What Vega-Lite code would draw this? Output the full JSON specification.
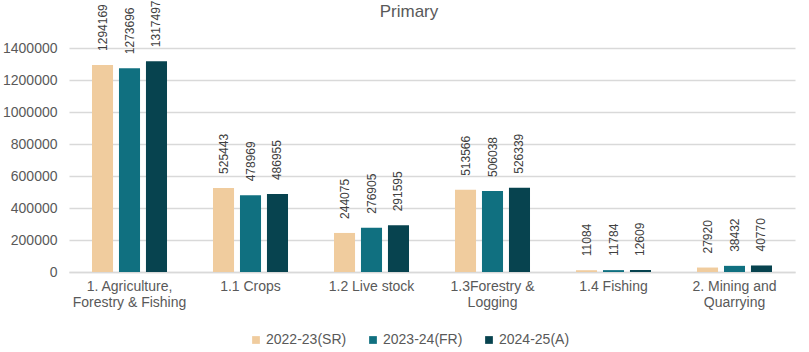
{
  "$schema": "https://vega.github.io/schema/vega-lite/v6.json",
  "width": 726,
  "height": 224,
  "autosize": {"type": "none"},
  "padding": {"left": 69, "top": 48, "right": 14, "bottom": 80},
  "background": "white",
  "title": {"text": "Primary", "fontSize": 17, "font": "Liberation Sans", "fontWeight": "normal", "color": "#595959", "anchor": "middle", "offset": 4, "dy": 25, "dx": -23},
  "config": {"view": {"stroke": null}, "font": "Liberation Sans"},
  "data": {"values": [
    {"cat": "1. Agriculture,|Forestry & Fishing", "year": "2022-23(SR)", "v": 1294169},
    {"cat": "1. Agriculture,|Forestry & Fishing", "year": "2023-24(FR)", "v": 1273696},
    {"cat": "1. Agriculture,|Forestry & Fishing", "year": "2024-25(A)", "v": 1317497},
    {"cat": "1.1 Crops", "year": "2022-23(SR)", "v": 525443},
    {"cat": "1.1 Crops", "year": "2023-24(FR)", "v": 478969},
    {"cat": "1.1 Crops", "year": "2024-25(A)", "v": 486955},
    {"cat": "1.2 Live stock", "year": "2022-23(SR)", "v": 244075},
    {"cat": "1.2 Live stock", "year": "2023-24(FR)", "v": 276905},
    {"cat": "1.2 Live stock", "year": "2024-25(A)", "v": 291595},
    {"cat": "1.3Forestry &|Logging", "year": "2022-23(SR)", "v": 513566},
    {"cat": "1.3Forestry &|Logging", "year": "2023-24(FR)", "v": 506038},
    {"cat": "1.3Forestry &|Logging", "year": "2024-25(A)", "v": 526339},
    {"cat": "1.4 Fishing", "year": "2022-23(SR)", "v": 11084},
    {"cat": "1.4 Fishing", "year": "2023-24(FR)", "v": 11784},
    {"cat": "1.4 Fishing", "year": "2024-25(A)", "v": 12609},
    {"cat": "2. Mining and|Quarrying", "year": "2022-23(SR)", "v": 27920},
    {"cat": "2. Mining and|Quarrying", "year": "2023-24(FR)", "v": 38432},
    {"cat": "2. Mining and|Quarrying", "year": "2024-25(A)", "v": 40770}
  ]},
  "encoding": {
    "x": {"field": "cat", "type": "nominal", "sort": null,
      "scale": {"paddingInner": 0.38, "paddingOuter": 0.19},
      "axis": {"title": null, "labelAngle": 0, "labelExpr": "split(datum.label, '|')", "labelFontSize": 14, "labelColor": "#595959", "labelPadding": 7, "labelLineHeight": 16, "ticks": false, "domainColor": "#d9d9d9", "domainWidth": 1.5, "labelFont": "Liberation Sans"}},
    "xOffset": {"field": "year", "type": "nominal", "scale": {"paddingInner": 0.22, "paddingOuter": 0}},
    "y": {"field": "v", "type": "quantitative",
      "scale": {"domain": [0, 1400000], "nice": false},
      "axis": {"title": null, "values": [0, 200000, 400000, 600000, 800000, 1000000, 1200000, 1400000], "labelOverlap": false, "format": "d", "labelFontSize": 14, "labelColor": "#595959", "labelPadding": 12, "ticks": false, "domain": false, "gridColor": "#d9d9d9", "gridWidth": 1.5, "labelFont": "Liberation Sans"}}
  },
  "layer": [
    {"mark": {"type": "bar"},
     "encoding": {"color": {"field": "year", "type": "nominal",
        "scale": {"domain": ["2022-23(SR)", "2023-24(FR)", "2024-25(A)"], "range": ["#F0CC9E", "#107080", "#07434F"]},
        "legend": {"title": null, "orient": "none", "legendX": 180, "legendY": 285, "direction": "horizontal", "symbolType": "square", "symbolSize": 60, "labelFontSize": 14, "labelColor": "#595959", "columnPadding": 19, "labelOffset": 3, "labelFont": "Liberation Sans", "symbolStrokeWidth": 0,
          "labelExpr": "datum.label == '2023-24(FR)' ? '\u00a0\u00a0\u00a0\u00a0\u00a0\u00a0\u00a0' + datum.label : datum.label"}}}},
    {"mark": {"type": "text", "angle": -90, "align": "left", "baseline": "middle", "dx": 14, "fontSize": 12, "color": "#404040", "font": "Liberation Sans"},
     "encoding": {"text": {"field": "v", "type": "quantitative", "format": "d"}}}
  ]
}
